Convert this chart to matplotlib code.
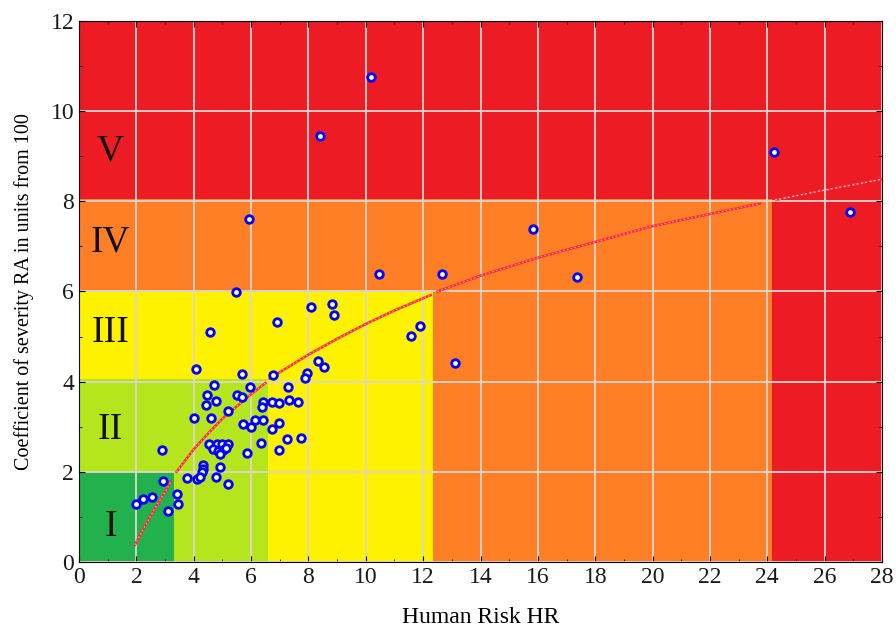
import matplotlib.pyplot as plt
from matplotlib.patches import Rectangle

# risk zones: (label, x upper bound, y upper bound, colour), drawn from largest to smallest
zone_names = ['V', 'IV', 'III', 'II', 'I']
zone_x = [28.0, 24.15, 12.35, 6.6, 3.3]
zone_y = [12.0, 8.05, 6.0, 4.05, 2.0]
zone_colors = ['#ed1c24', '#ff7f27', '#fff200', '#b5e61d', '#22b14c']
label_y = [9.1, 7.1, 5.08, 2.93, 0.78]

# observed points
hr = [10.18, 8.4, 24.23, 5.93, 26.9, 15.83, 10.47, 12.65, 17.35, 5.46,
      8.09, 8.81, 8.9, 6.89, 4.57, 11.89, 11.58, 13.11, 8.33, 8.54,
      4.07, 7.94, 7.88, 5.67, 6.78, 7.28, 4.72, 5.96, 4.45, 5.5,
      5.69, 4.77, 4.42, 6.43, 6.37, 6.72, 6.98, 7.33, 7.65, 5.21,
      4.01, 4.6, 6.14, 6.4, 5.73, 5.99, 6.98, 6.72, 7.74, 7.24,
      6.33, 6.98, 4.54, 4.8, 4.98, 5.21, 4.68, 4.86, 5.03, 5.13,
      4.92, 2.88, 5.87, 4.92, 4.31, 4.33, 4.28, 3.75, 4.1, 4.22,
      4.77, 5.21, 2.94, 1.98, 2.24, 2.53, 3.43, 3.46, 3.11]
ra = [10.75, 9.45, 9.1, 7.61, 7.77, 7.38, 6.39, 6.39, 6.33, 5.99,
      5.65, 5.72, 5.47, 5.33, 5.11, 5.24, 5.01, 4.41, 4.46, 4.32,
      4.28, 4.2, 4.09, 4.18, 4.15, 3.89, 3.92, 3.89, 3.7, 3.7,
      3.67, 3.57, 3.48, 3.55, 3.44, 3.55, 3.53, 3.59, 3.54, 3.35,
      3.19, 3.19, 3.16, 3.15, 3.06, 2.99, 3.09, 2.95, 2.76, 2.73,
      2.65, 2.48, 2.62, 2.62, 2.62, 2.62, 2.5, 2.47, 2.48, 2.53,
      2.4, 2.48, 2.42, 2.11, 2.15, 2.06, 2.0, 1.87, 1.83, 1.88,
      1.88, 1.73, 1.8, 1.28, 1.39, 1.45, 1.51, 1.29, 1.12]

# fitted curve, one zone at a time
curve_x = [[1.95, 2.3, 2.7, 3.0, 3.2],
           [3.4, 4.0, 4.5, 5.0, 5.5, 6.0, 6.5],
           [6.65, 8.0, 9.0, 10.0, 11.0, 12.26],
           [12.5, 14.0, 16.0, 18.0, 20.0, 22.0, 23.74]]
curve_y = [[0.38, 0.8, 1.25, 1.55, 1.78],
           [2.0, 2.5, 2.85, 3.18, 3.45, 3.72, 3.97],
           [4.07, 4.6, 4.95, 5.28, 5.58, 5.92],
           [6.0, 6.35, 6.75, 7.1, 7.45, 7.72, 7.95]]
tail_x = [24.27, 26.0, 28.0]
tail_y = [8.03, 8.25, 8.49]

plt.rcParams['font.family'] = ['Liberation Serif', 'DejaVu Serif']

fig = plt.figure(figsize=(8.96, 6.33), dpi=100)
ax = fig.add_axes([0.0882, 0.1122, 0.8962, 0.8546])

for name, xr, yr, col, ly in zip(zone_names, zone_x, zone_y, zone_colors,
                                 label_y):
    ax.add_patch(Rectangle((0, 0), xr, yr, facecolor=col, edgecolor='none',
                           zorder=0))
    ax.text(1.1, ly, name, fontsize=27, ha='center', va='center',
            color='#111111', zorder=5)

ax.set_xlim(0, 28)
ax.set_ylim(0, 12)
ax.set_xticks(range(0, 29, 2))
ax.set_yticks(range(0, 13, 2))
ax.set_xticks(range(0, 29, 1), minor=True)
ax.set_yticks(range(0, 13, 1), minor=True)
ax.tick_params(which='both', direction='in', top=True, right=True,
               labelsize=17, labelcolor='#1a1a1a')
ax.tick_params(which='major', length=4)
ax.tick_params(which='minor', length=2)
ax.grid(True, which='major', color='#ddd6cf', linewidth=1.3, zorder=1)
for line in ax.get_xgridlines() + ax.get_ygridlines():
    line.set_zorder(1)

for cx, cy in zip(curve_x, curve_y):
    ax.plot(cx, cy, color='#ff2a3a', linewidth=1.8, zorder=3)
    ax.plot(cx, cy, color='#ffc0c8', linewidth=0.7, dashes=(1.5, 2.5),
            zorder=3)
ax.plot(tail_x, tail_y, color='#ff2a3a', linewidth=1.8, dashes=(2, 1.5),
        zorder=3)
ax.plot(tail_x, tail_y, color='#ffd0d8', linewidth=0.9, dashes=(1.5, 2),
        zorder=3)

ax.scatter(hr, ra, s=30, facecolor='white', edgecolor='#0000ff',
           linewidth=2.0, zorder=4)

ax.set_xlabel('Human Risk HR', fontsize=17, labelpad=14)
ax.set_ylabel('Coefficient of severity RA in units from 100', fontsize=14.5,
              labelpad=12)

fig.savefig('out.png', dpi=100)
plt.close()
